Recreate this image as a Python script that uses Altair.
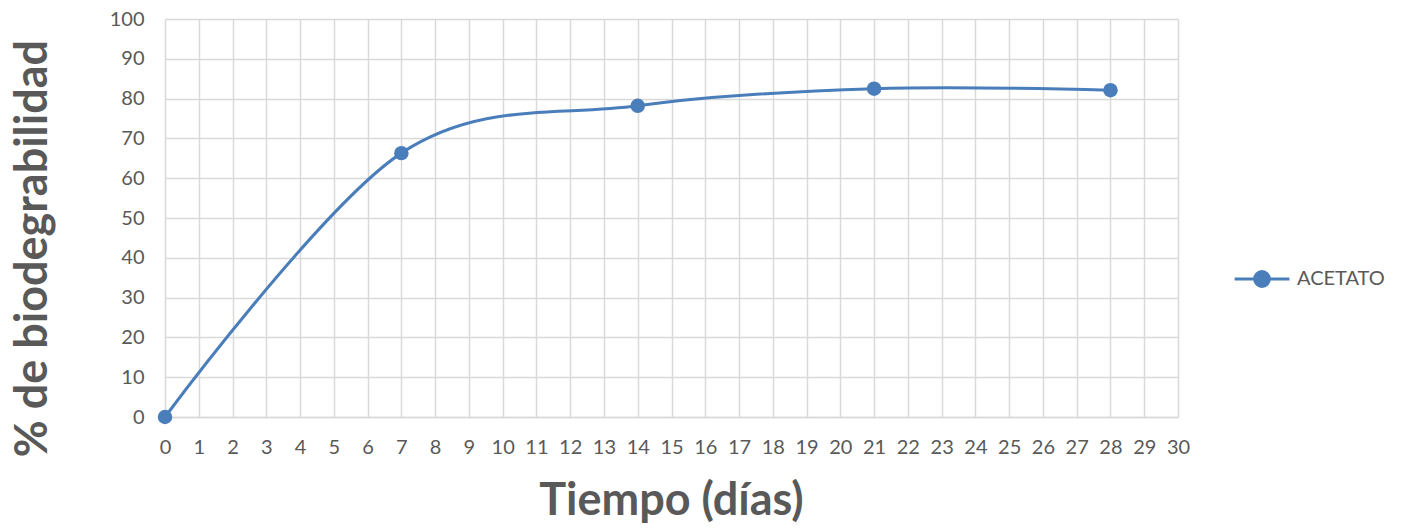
import altair as alt
import pandas as pd

dias = [0, 7, 14, 21, 28]
biodeg = [0, 66.3, 78.2, 82.5, 82.1]
serie = ["ACETATO"] * len(dias)

df = pd.DataFrame({"dias": dias, "biodeg": biodeg, "serie": serie})

FONT = "Lato"
GRAY = "#595959"
BLUE = "#4A7EBB"

legend_symbol = "M-1,0H1M-0.27,0A0.27,0.27 0 1,1 0.27,0A0.27,0.27 0 1,1 -0.27,0Z"

chart = alt.Chart(df).mark_line(
    interpolate="cardinal", tension=0, strokeWidth=3,
    point=alt.OverlayMarkDef(filled=True, size=210, color=BLUE)
).encode(
    x=alt.X("dias:Q", scale=alt.Scale(domain=[0, 30], nice=False),
            axis=alt.Axis(title="Tiempo (días)", values=list(range(0, 31)),
                          labelOverlap=False, labelFlush=False,
                          grid=True, gridColor="#d9d9d9", gridWidth=1.5,
                          domain=True, domainColor="#d9d9d9", domainWidth=1.5,
                          ticks=False, labelPadding=20, labelFontSize=20,
                          labelColor=GRAY, labelFont=FONT,
                          titleFont=FONT, titleFontSize=45, titleFontWeight="bold",
                          titleColor=GRAY, titleX=506, titleY=97,
                          titleBaseline="alphabetic", titleAlign="center")),
    y=alt.Y("biodeg:Q", scale=alt.Scale(domain=[0, 100], nice=False),
            axis=alt.Axis(title="% de biodegrabilidad", values=list(range(0, 101, 10)),
                          labelOverlap=False, labelFlush=False,
                          grid=True, gridColor="#d9d9d9", gridWidth=1.5,
                          domain=False, ticks=False, labelPadding=21, labelFontSize=20,
                          labelColor=GRAY, labelFont=FONT,
                          titleFont=FONT, titleFontSize=45, titleFontWeight="bold",
                          titleColor=GRAY, titleX=-119, titleY=229, titleAngle=-90,
                          titleBaseline="alphabetic", titleAlign="center")),
    color=alt.Color("serie:N", scale=alt.Scale(range=[BLUE]),
                    legend=alt.Legend(title=None, orient="none", legendX=1068, legendY=231,
                                      symbolType=legend_symbol, symbolSize=3000,
                                      symbolStrokeWidth=3, symbolFillColor=BLUE,
                                      labelFont=FONT, labelFontSize=20, labelColor=GRAY,
                                      labelOffset=6)),
).properties(
    width=1013, height=398,
    padding={"left": 157, "top": 11, "right": 223, "bottom": 112},
    autosize=alt.AutoSizeParams(type="none"),
).configure_view(stroke=None)

chart.save("out.html", embed_options={"renderer": "svg", "actions": False})
